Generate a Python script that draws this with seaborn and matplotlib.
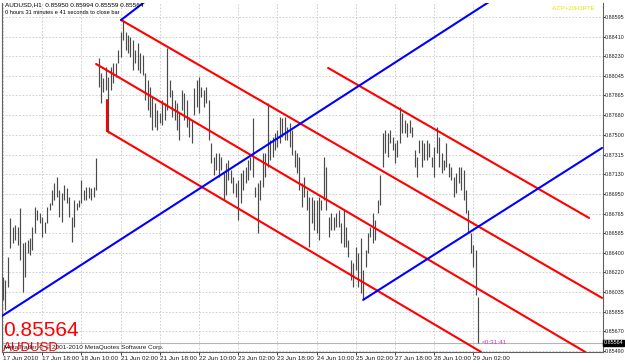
import numpy as np
import pandas as pd
import matplotlib
matplotlib.use("Agg")
import matplotlib.pyplot as plt
import seaborn as sns

# ---------------- data (AUDUSD H1) ----------------
highs = [
    0.86177, 0.86150, 0.86364, 0.86726, 0.86642, 0.86661, 0.86642, 0.86819, 0.86494, 0.86503,
    0.86522, 0.86540, 0.86642, 0.86828, 0.86801, 0.86772, 0.86735, 0.86689, 0.86828, 0.86866,
    0.86987, 0.87051, 0.87107, 0.86987, 0.86958, 0.87033, 0.87005, 0.86921, 0.86735, 0.86894,
    0.86866, 0.86894, 0.87080, 0.86987, 0.87014, 0.87014, 0.87005, 0.87014, 0.87284, 0.88214,
    0.88074, 0.88028, 0.88130, 0.88037, 0.88130, 0.88167, 0.88167, 0.88288, 0.88455, 0.88567,
    0.88455, 0.88427, 0.88409, 0.88381, 0.88288, 0.88353, 0.88260, 0.88242, 0.88074, 0.88009,
    0.87944, 0.87851, 0.87795, 0.87730, 0.87702, 0.87823, 0.87795, 0.88307, 0.88009, 0.87916,
    0.87823, 0.87795, 0.87702, 0.87916, 0.87888, 0.87823, 0.87665, 0.87637, 0.87935, 0.88009,
    0.88037, 0.87944, 0.87916, 0.87944, 0.87823, 0.87423, 0.87293, 0.87330, 0.87330, 0.87293,
    0.87144, 0.87237, 0.87265, 0.87173, 0.87107, 0.87051, 0.87080, 0.87144, 0.87173, 0.87200,
    0.87265, 0.87293, 0.87656, 0.87014, 0.87051, 0.87080, 0.87330, 0.87330, 0.87795, 0.87451,
    0.87479, 0.87516, 0.87544, 0.87665, 0.87656, 0.87665, 0.87572, 0.87609, 0.87544, 0.87358,
    0.87330, 0.87293, 0.87051, 0.87107, 0.86987, 0.86921, 0.86921, 0.86894, 0.86894, 0.86921,
    0.86894, 0.87293, 0.87200, 0.86735, 0.86772, 0.86735, 0.86772, 0.86801, 0.86680, 0.86801,
    0.86642, 0.86522, 0.86336, 0.86307, 0.86456, 0.86401, 0.86540, 0.86242, 0.86429, 0.86587,
    0.86642, 0.86772, 0.86707, 0.86894, 0.87126, 0.87516, 0.87544, 0.87516, 0.87544, 0.87479,
    0.87423, 0.87451, 0.87758, 0.87702, 0.87637, 0.87609, 0.87637, 0.87572, 0.87358, 0.87293,
    0.87451, 0.87451, 0.87423, 0.87451, 0.87423, 0.87293, 0.87386, 0.87572, 0.87479, 0.87330,
    0.87265, 0.87423, 0.87237, 0.87200, 0.87107, 0.87144, 0.87200, 0.87200, 0.87173, 0.86987,
    0.86801, 0.86587, 0.86475, 0.86429, 0.85994]

lows = [
    0.85964, 0.85871, 0.86085, 0.86447, 0.86494, 0.86522, 0.86475, 0.86336, 0.86038, 0.86177,
    0.86401, 0.86382, 0.86429, 0.86587, 0.86708, 0.86680, 0.86549, 0.86587, 0.86680, 0.86801,
    0.86847, 0.86894, 0.86921, 0.86735, 0.86689, 0.86894, 0.86866, 0.86735, 0.86503, 0.86642,
    0.86801, 0.86828, 0.86866, 0.86894, 0.86894, 0.86912, 0.86894, 0.86921, 0.86987, 0.87944,
    0.87795, 0.87897, 0.87916, 0.87517, 0.87916, 0.87981, 0.88037, 0.88167, 0.88223, 0.88381,
    0.88288, 0.88260, 0.88223, 0.88102, 0.88167, 0.88102, 0.88074, 0.88056, 0.87823, 0.87730,
    0.87665, 0.87544, 0.87572, 0.87544, 0.87609, 0.87590, 0.87637, 0.87730, 0.87851, 0.87665,
    0.87637, 0.87544, 0.87451, 0.87730, 0.87637, 0.87572, 0.87479, 0.87423, 0.87684, 0.87758,
    0.87702, 0.87851, 0.87758, 0.87795, 0.87451, 0.87237, 0.87126, 0.87173, 0.87107, 0.87173,
    0.86894, 0.86940, 0.87080, 0.87051, 0.86958, 0.86921, 0.86708, 0.86866, 0.86987, 0.87051,
    0.87080, 0.87173, 0.87107, 0.86921, 0.86587, 0.86894, 0.87014, 0.87107, 0.87200, 0.87265,
    0.87293, 0.87358, 0.87386, 0.87423, 0.87479, 0.87451, 0.87451, 0.87386, 0.87312, 0.87200,
    0.87144, 0.86987, 0.86828, 0.86921, 0.86801, 0.86456, 0.86680, 0.86614, 0.86587, 0.86522,
    0.86801, 0.86894, 0.86801, 0.86549, 0.86614, 0.86614, 0.86642, 0.86642, 0.86494, 0.86456,
    0.86456, 0.86364, 0.86150, 0.86085, 0.86242, 0.86085, 0.86028, 0.85964, 0.86270, 0.86401,
    0.86549, 0.86494, 0.86522, 0.86772, 0.86847, 0.87200, 0.87330, 0.87293, 0.87423, 0.87358,
    0.87237, 0.87293, 0.87423, 0.87516, 0.87516, 0.87479, 0.87516, 0.87479, 0.87200, 0.87107,
    0.87330, 0.87200, 0.87265, 0.87265, 0.87293, 0.87200, 0.87107, 0.87330, 0.87200, 0.87144,
    0.87173, 0.87200, 0.87107, 0.87080, 0.86921, 0.86958, 0.87051, 0.86987, 0.86894, 0.86772,
    0.86587, 0.86401, 0.86270, 0.86010, 0.85559]

n_bars = min(len(highs), len(lows))
bar_index = list(range(n_bars))

date_ticks = [0, 16, 32, 48, 64, 80, 96, 112, 128, 144, 160, 176, 192]
date_labels = ["17 Jun 2010", "17 Jun 18:00", "18 Jun 10:00", "21 Jun 02:00",
               "21 Jun 18:00", "22 Jun 10:00", "23 Jun 02:00", "23 Jun 18:00",
               "24 Jun 10:00", "25 Jun 02:00", "27 Jun 18:00", "28 Jun 10:00",
               "29 Jun 02:00"]

price_ticks = [0.88595, 0.88410, 0.88230, 0.88045, 0.87865, 0.87680, 0.87500,
               0.87315, 0.87130, 0.86950, 0.86765, 0.86585, 0.86400, 0.86220,
               0.86035, 0.85855, 0.85670, 0.85490]

last_price = 0.85564
header_ohlc = [0.85950, 0.85994, 0.85559, 0.85564]

# drawn objects: anchor points (bar index, price)
red_upper_x, red_upper_y = [48.2, 244.5], [0.88567, 0.85982]
red_mid_x, red_mid_y = [38.0, 237.6], [0.88158, 0.85480]
red_low_x, red_low_y = [42.4, 195.1], [0.87535, 0.85480]
red_right_x, red_right_y = [132.7, 239.2], [0.88121, 0.86726]
red_link_x, red_link_y = [42.4, 42.4], [0.87823, 0.87535]
blue_main_x, blue_main_y = [-0.4, 199.6], [0.85814, 0.88753]
blue_low_x, blue_low_y = [147.0, 244.5], [0.85964, 0.87377]
blue_top_x, blue_top_y = [48.2, 58.8], [0.88567, 0.88753]

# ---------------- figure ----------------
sns.set_style("white")
plt.rcParams["font.family"] = ["Liberation Sans", "DejaVu Sans"]

W, H = 625, 363
fig = plt.figure(figsize=(W / 100, H / 100), dpi=100)
fig.patch.set_facecolor("white")
ax = fig.add_axes([2 / W, 11 / H, 601 / W, 349 / H])
ax.set_facecolor("white")

xmin, xmax = -0.41, 244.9
ymin, ymax = 0.85479, 0.88725
ax.set_xlim(xmin, xmax)
ax.set_ylim(ymin, ymax)

# grid
for t in date_ticks:
    ax.axvline(t, color="#c8c8c8", lw=0.6, ls=(0, (2, 2)), zorder=0)
for p in price_ticks:
    ax.axhline(p, color="#c8c8c8", lw=0.6, ls=(0, (2, 2)), zorder=0)

# bid line
ax.axhline(last_price, color="#b4b4b4", lw=0.8, zorder=1)

# OHLC bars (high-low)
ax.vlines(bar_index, lows[:n_bars], highs[:n_bars], color="#4a4a4a", lw=0.85, zorder=2)

# objects via seaborn
segments = [
    ("red_upper", red_upper_x, red_upper_y),
    ("red_mid", red_mid_x, red_mid_y),
    ("red_low", red_low_x, red_low_y),
    ("red_right", red_right_x, red_right_y),
    ("red_link", red_link_x, red_link_y),
    ("blue_main", blue_main_x, blue_main_y),
    ("blue_low", blue_low_x, blue_low_y),
    ("blue_top", blue_top_x, blue_top_y),
]
rows = []
for name, xs, ys in segments:
    for k, (xv, yv) in enumerate(zip(xs, ys)):
        rows.append({"line": name, "x": xv, "price": yv, "order": k})
df = pd.DataFrame(rows)
palette = {name: ("#ff0000" if name.startswith("red") else "#0000ff") for name, _, _ in segments}
sns.lineplot(data=df, x="x", y="price", hue="line", units="line", estimator=None,
             sort=False, palette=palette, legend=False, lw=1.5, ax=ax, zorder=3)
ax.set_xlabel("")
ax.set_ylabel("")

# axes styling
for side in ["left", "bottom", "right"]:
    ax.spines[side].set_color("#606060")
    ax.spines[side].set_linewidth(0.8)
ax.spines["top"].set_visible(False)

ax.yaxis.tick_right()
ax.set_yticks(price_ticks)
ax.set_yticklabels([f"{p:.5f}" for p in price_ticks])
ax.tick_params(axis="y", which="both", right=True, left=False, length=1.2, width=0.6,
               pad=0.3, labelsize=3.9, colors="#202020")
ax.set_xticks(date_ticks)
ax.set_xticklabels(date_labels)
ax.tick_params(axis="x", bottom=True, length=2, width=0.6, pad=1, labelsize=4.6,
               colors="#202020")
for lab in ax.get_xticklabels():
    lab.set_horizontalalignment("left")

# texts
fig.text(5 / W, 1 - 2 / H,
         "AUDUSD,H1  " + " ".join(f"{v:.5f}" for v in header_ohlc),
         fontsize=4.6, va="top", ha="left", color="#000000")
fig.text(5 / W, 1 - 10 / H, "0 hours 31 minutes e 41 seconds to close bar",
         fontsize=4.1, va="top", ha="left", color="#000000")
fig.text(552 / W, 1 - 6 / H, "A.CP+20H1RTE", fontsize=4.3, va="top", ha="left",
         color="#e6e600")

fig.text(3 / W, 1 - 336 / H, f"{last_price:.5f}", fontsize=15,
         color="#ff0000", va="baseline", ha="left")
fig.text(3 / W, 1 - 351 / H, "AUDUSD", fontsize=9.5,
         color="#ff0000", va="baseline", ha="left")
fig.text(4 / W, 1 - 349.5 / H, "MetaTrader 4, \u00a9 2001-2010 MetaQuotes Software Corp.",
         fontsize=4.6, color="#202020", va="baseline", ha="left")

ax.text(bar_index[-1] + 1.5, last_price, "<0:31:41", fontsize=4.6, color="#c040c0",
        va="center", ha="left", zorder=4)

# current price box on the price scale
ax.text(1.001, last_price, f"{last_price:.5f}", transform=ax.get_yaxis_transform(),
        fontsize=3.9, color="white", va="center", ha="left", clip_on=False,
        bbox=dict(boxstyle="square,pad=0.1", fc="black", ec="black"), zorder=5)

fig.savefig("out.png", dpi=100, facecolor="white")
